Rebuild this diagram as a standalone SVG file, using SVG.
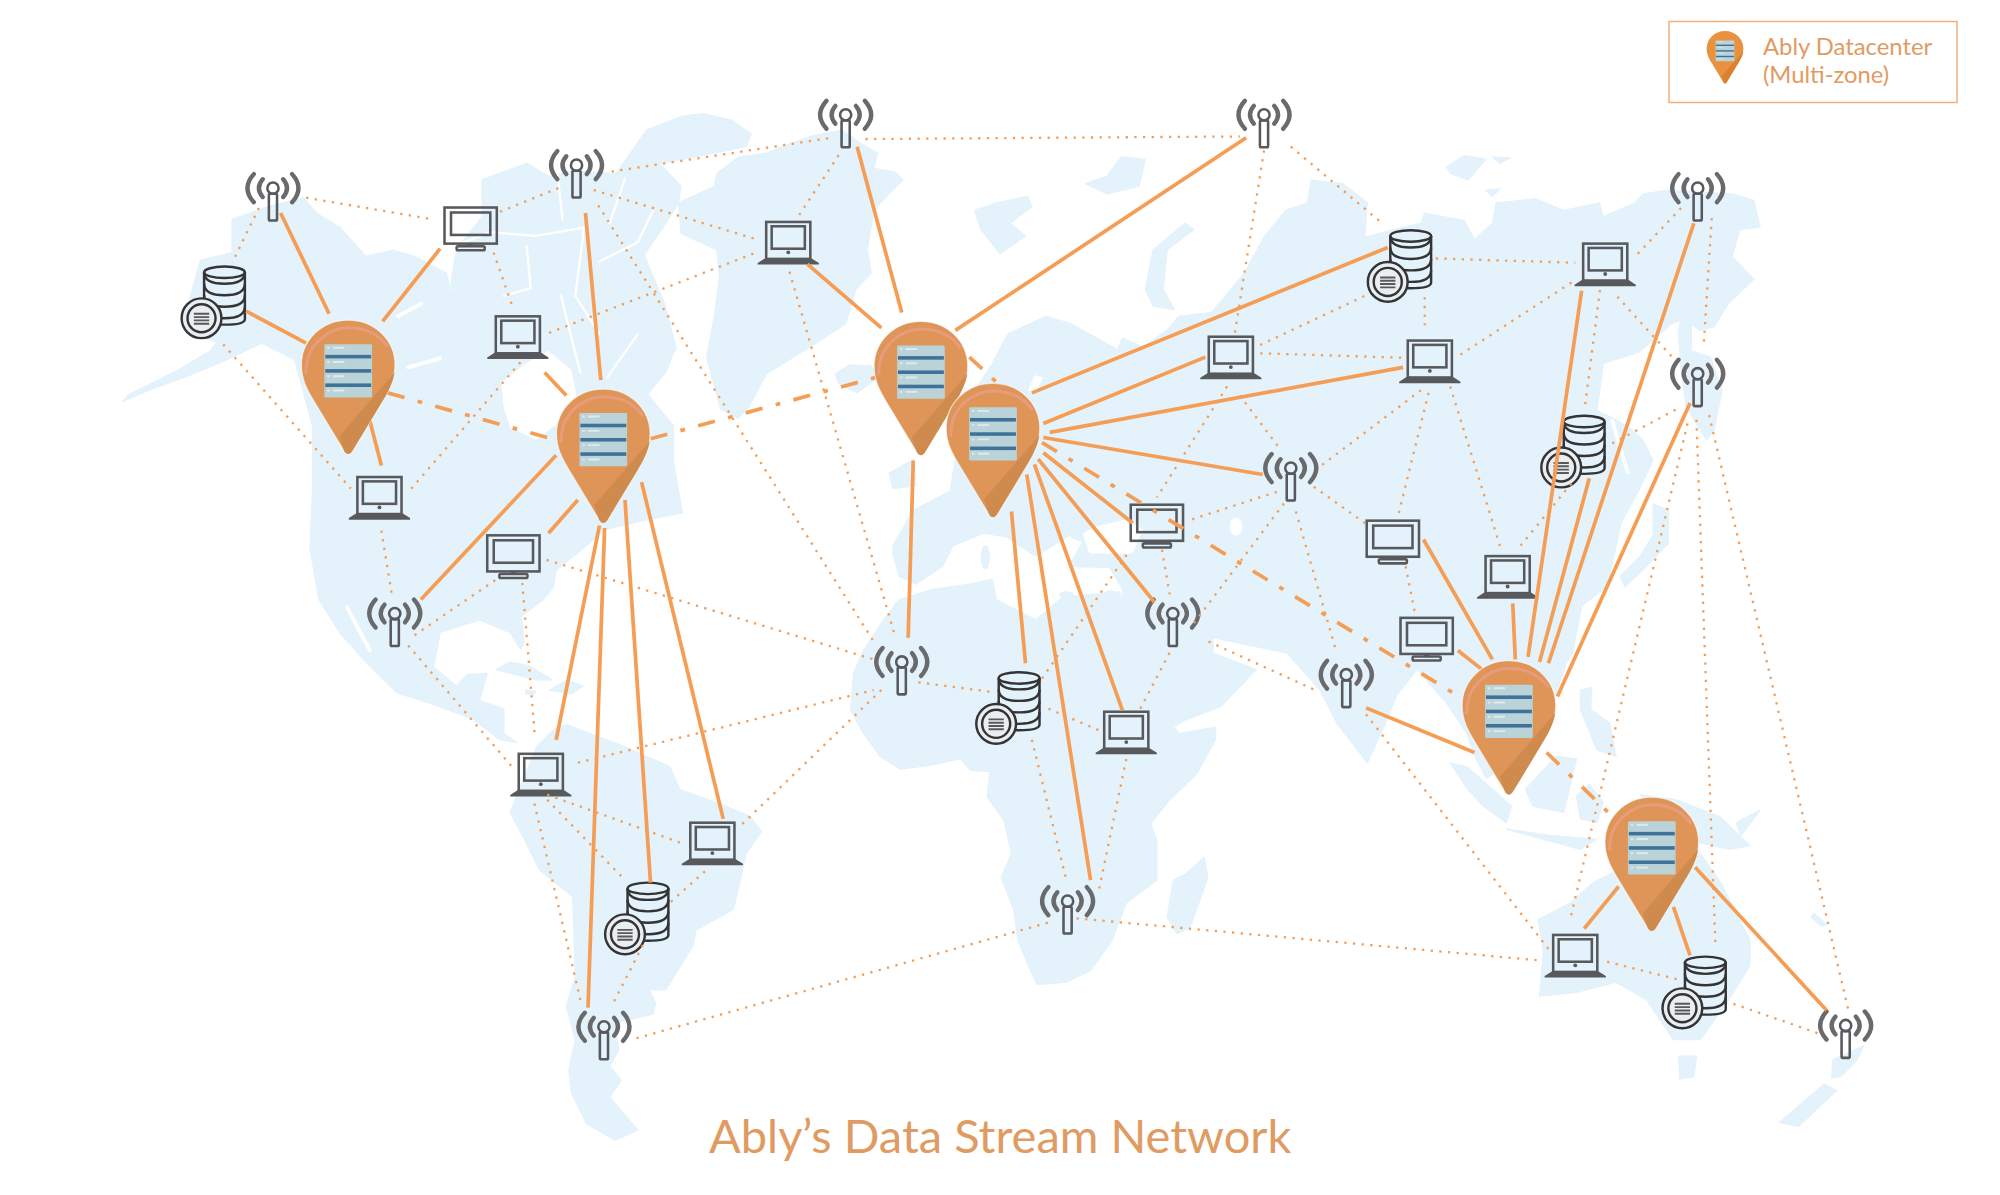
<svg xmlns="http://www.w3.org/2000/svg" width="2000" height="1195" viewBox="0 0 2000 1195">
<style>
.land{fill:#e3f2fb;stroke:#e3f2fb;stroke-width:1;stroke-linejoin:round}
.sea{fill:#fff;stroke:none}
.seal{fill:none;stroke:#fff;stroke-width:3;stroke-linecap:round;stroke-linejoin:round}
.seal2{fill:none;stroke:#fff;stroke-width:1.8;stroke-linecap:round;stroke-linejoin:round}
.solid{stroke:#f59d54;stroke-width:2.9;fill:none}
.dot{stroke:#f59d54;stroke-width:1.8;stroke-dasharray:1.8 5;fill:none}
.back{stroke:#f59d54;stroke-width:2.9;stroke-dasharray:13.6 10.7 3.7 10.7;fill:none}
.ic{fill:none;stroke:#58595d;stroke-width:2}
.ifill{fill:#58595d;stroke:none}
.arc{fill:none;stroke:#6a6a6c;stroke-width:3.4;stroke-linecap:round}
.db{fill:none;stroke:#343436;stroke-width:1.9}
.txt{font-family:"Lato","Open Sans","Liberation Sans",sans-serif;fill:#e09b63;font-weight:400}
</style>
<defs>
<g id="ant">
<path class="arc" d="M-15,-11Q-25,0-15,11M15,-11Q25,0 15,11"/>
<path class="arc" d="M-8,-7Q-14,0-8,7M8,-7Q14,0 8,7"/>
<rect class="ic" x="-3.2" y="4.4" width="6.4" height="21" rx="1"/>
<circle class="ic" cx="0" cy="0" r="4.4"/>
</g>
<g id="lap">
<rect class="ic" x="-17.3" y="-16" width="34.6" height="29"/>
<rect class="ic" x="-13" y="-12.6" width="26" height="17.6"/>
<circle class="ifill" cx="0" cy="7.8" r="1.5"/>
<path class="ifill" d="M-18,12.4H18L24,16.2V17.4H-24V16.2Z"/>
</g>
<g id="mon">
<rect class="ic" x="-20.5" y="-16.3" width="41" height="28.3"/>
<rect class="ic" x="-15.4" y="-12.4" width="30.8" height="17.6"/>
<rect class="ifill" x="-2" y="12" width="4" height="2.5"/>
<rect class="ic" x="-11" y="14" width="22" height="3.2" rx="1"/>
</g>
<g id="dbs">
<path class="db" d="M-16,4.5V41Q-16,45.5 0,45.5Q16,45.5 16,41V4.5"/>
<ellipse class="db" cx="0" cy="4.5" rx="16" ry="4.5"/>
<path class="db" d="M-16,4.5Q-16,13.5 0,13.5Q16,13.5 16,4.5M-16,13.5Q-16,22.5 0,22.5Q16,22.5 16,13.5M-16,22.5Q-16,31.5 0,31.5Q16,31.5 16,22.5M-16,31.5Q-16,40.5 0,40.5Q16,40.5 16,31.5"/>
<circle cx="-18" cy="40.5" r="15.6" fill="#e9eef1" stroke="#343436" stroke-width="1.9"/>
<circle class="db" cx="-18" cy="40.5" r="11"/>
<path d="M-24,37H-12M-24,39.6H-12M-24,42.2H-12M-24,44.8H-12" stroke="#58595d" stroke-width="1.5" fill="none"/>
</g>
<path id="pinbody" d="M0,0C21,0 36.7,16 36.7,35C36.7,47 32,55 26,65L3,103Q0,107-3,103L-26,65C-32,55-36.7,47-36.7,35C-36.7,16-21,0 0,0Z"/>
<g id="srv">
<rect x="-18.7" y="18.8" width="37.4" height="41.8" rx="1" fill="#b9d3d8"/>
<rect x="-18" y="27.2" width="36" height="2.8" fill="#3e7299"/>
<rect x="-18" y="38.4" width="36" height="2.8" fill="#3e7299"/>
<rect x="-18" y="49.6" width="36" height="2.8" fill="#3e7299"/>
<path d="M-12,21.6H-3M-12,32.8H-3M-12,44H-3M-12,55.2H-3" stroke="#dfeaec" stroke-width="1.5" fill="none"/>
<path d="M-16.5,21.6H-14.5M-16.5,32.8H-14.5M-16.5,44H-14.5M-16.5,55.2H-14.5" stroke="#dfeaec" stroke-width="1.5" fill="none"/>
</g>
<g id="pin">
<use href="#pinbody" fill="#de9557" stroke="#fff" stroke-opacity=".6" stroke-width="1"/>
<path d="M-7,91L36.4,41C35,49 31,57 26,65L3,103Q0,107-3,103Z" fill="#cf8a4e"/>
<path d="M-33,42C-34,18-14,6 0,6C13,6 24,11 31,21" fill="none" stroke="#e89c7b" stroke-width="2.4"/>
<use href="#srv"/>
</g>
</defs>
<g transform="scale(1.2755)">
<g id="world-map">
<polygon class="land" points="182,172 210,162 238,155 248,167 266,178 287,201 308,196 325,201 350,214 353,227 371,240 395,230 409,245 416,280 455,298 507,308 528,334 528,362 535,402 505,408 475,415 462,426 436,447 434,460 426,470 409,483 411,504 408,509 400,496 376,486 345,496 340,523 358,538 366,529 382,528 376,549 395,556 395,575 405,582 392,580 371,564 342,553 311,543 285,517 267,497 250,470 243,430 245,386 245,334 238,308 231,282 205,269 178,282 147,295 119,305 96,315 100,310 140,290 165,275 170,268 150,262 143,256 157,204 182,198"/>
<polygon class="land" points="353,225 358,195 378,170 378,141 413,128 430,138 448,134 483,136 507,102 535,91 551,89 573,94 589,105 585,115 545,123 517,128 534,146 532,159 520,178 505,200 521,238 530,272 522,292 507,310 455,300 416,282 409,245 395,230 371,240"/>
<polygon class="sea" points="393,300 412,285 430,275 448,290 452,310 440,330 420,345 400,335 395,320"/>
<path class="seal" d="M272,476L290,510M312,248L330,238M320,288L345,281"/>
<path class="seal2" d="M358,192L385,182L420,185L460,178M436,126L441,172M458,178L451,232L470,262M413,193L416,226L395,232M470,205L500,190L512,165M490,140L478,175M440,232L448,265L455,292M476,296L500,262"/>
<polygon class="land" points="517,259 530,274 517,287"/>
<polygon class="land" points="610,116 635,107 660,102 674,112 688,120 685,132 702,135 708,141 697,152 685,165 680,196 683,214 671,227 663,254 635,272 601,293 587,319 579,328 565,321 554,280 560,248 564,217 562,196 534,183 532,159 560,146 562,136 579,123 601,120"/>
<polygon class="land" points="655,293 666,286 683,287 690,295 672,308 657,300"/>
<polygon class="land" points="764,165 781,159 806,154 809,162 792,175 804,185 784,199 769,180"/>
<polygon class="land" points="851,144 868,138 879,123 898,125 893,146 868,152"/>
<polygon class="land" points="929,175 936,180 915,196 912,227 921,243 904,240 898,227 904,196"/>
<polygon class="land" points="1134,131 1148,122 1165,125 1151,141 1137,136"/>
<polygon class="land" points="1170,123 1184,124 1176,128"/>
<polygon class="land" points="1165,149 1176,148 1170,154"/>
<polygon class="land" points="697,371 716,360 718,381 700,383"/>
<polygon class="land" points="700,428 716,400 745,385 755,320 778,285 790,262 820,248 840,254 876,274 880,265 896,272 915,259 924,248 950,245 975,215 991,186 1008,165 1025,159 1028,141 1053,144 1072,159 1070,186 1092,180 1114,175 1117,167 1148,173 1156,188 1170,175 1173,159 1204,156 1226,165 1254,159 1257,170 1282,159 1288,152 1308,149 1358,152 1375,157 1380,178 1364,180 1358,201 1375,219 1355,238 1344,256 1333,259 1320,250 1310,254 1296,267 1285,276 1257,285 1252,322 1263,327 1277,335 1288,345 1296,361 1285,384 1271,410 1260,460 1240,475 1233,512 1228,520 1218,548 1200,570 1185,600 1165,610 1155,590 1150,575 1134,551 1111,525 1095,545 1085,570 1072,598 1062,585 1048,567 1035,541 1009,512 975,505 951,500 951,512 985,525 957,554 928,565 920,570 900,540 878,502 880,462 870,445 838,444 849,425 838,420 812,436 789,421 771,418 747,428 739,444 718,458 705,452 700,434"/>
<polygon class="land" points="1320,238 1326,240 1326,275 1341,280 1350,306 1344,337 1338,345 1322,319 1318,290 1316,260"/>
<polygon class="land" points="1296,395 1308,400 1308,426 1288,447 1274,460 1270,452 1286,436 1296,420"/>
<polygon class="sea" points="849,418 859,413 883,407 896,415 888,434 854,434"/>
<ellipse class="sea" cx="969" cy="413" rx="5" ry="7"/>
<polygon class="sea" points="811,294 818,296 812,308 806,306"/>
<path class="seal" d="M1264,330L1276,370"/>
<polygon class="land" points="669,528 677,510 690,490 705,470 731,462 760,458 778,454 781,470 812,486 833,468 878,464 880,502 896,533 915,559 920,570 925,575 953,570 953,580 938,607 917,627 902,646 907,659 907,690 883,708 872,737 855,761 836,770 813,772 808,761 798,737 795,714 785,688 793,669 787,643 774,625 776,605 761,604 753,595 729,600 706,603 690,593 677,575 667,557"/>
<polygon class="land" points="944,672 947,688 933,727 923,732 915,719 920,690 930,685"/>
<polygon class="land" points="421,585 434,572 444,568 462,575 489,585 509,594 525,601 533,619 564,630 588,640 597,652 585,669 580,692 575,713 546,729 543,742 522,776 509,776 514,787 512,795 482,802 485,823 478,836 487,847 478,860 500,886 482,894 460,881 448,857 446,839 451,815 444,789 451,766 449,703 434,691 423,682 410,656 400,637 405,624"/>
<polygon class="land" points="389,525 400,519 415,522 433,533 420,533 400,528"/>
<polygon class="land" points="431,541 445,533 457,538 448,544"/>
<polygon class="land" points="412,541 420,542 418,545 412,544"/>
<polygon class="land" points="1137,598 1150,601 1176,624 1185,632 1181,645 1163,632 1150,618"/>
<polygon class="land" points="1196,619 1220,593 1236,595 1226,637 1202,632"/>
<polygon class="land" points="1181,650 1215,655 1252,658 1239,666 1202,656"/>
<polygon class="land" points="1236,624 1246,615 1257,629 1252,645 1239,642"/>
<polygon class="land" points="1239,541 1248,539 1247,556 1262,567 1267,593 1252,588 1239,556"/>
<polygon class="land" points="1286,623 1314,627 1348,640 1372,663 1356,666 1333,661 1300,650"/>
<polygon class="land" points="1361,645 1380,635 1365,655"/>
<polygon class="land" points="1422,716 1432,725 1428,726 1420,719"/>
<polygon class="land" points="1206,721 1231,708 1249,692 1265,684 1333,669 1349,692 1372,737 1372,757 1354,786 1333,815 1312,815 1301,799 1291,784 1267,770 1236,778 1207,781 1210,747"/>
<polygon class="land" points="1316,828 1330,828 1328,844 1317,846"/>
<polygon class="land" points="1437,831 1461,820 1456,831 1443,844 1436,845"/>
<polygon class="land" points="1395,880 1430,850 1440,855 1410,883"/>
<ellipse class="land" cx="772.5" cy="437" rx="3" ry="9"/>
<ellipse class="land" cx="836" cy="466" rx="5" ry="2"/>
<ellipse class="land" cx="871" cy="466" rx="5" ry="2.5"/>
</g>
<g id="node-antenna-1"><use href="#ant" x="214" y="147.5"/></g>
<g id="node-antenna-2"><use href="#ant" x="452" y="129.5"/></g>
<g id="node-antenna-3"><use href="#ant" x="663" y="90"/></g>
<g id="node-antenna-4"><use href="#ant" x="991" y="90"/></g>
<g id="node-antenna-5"><use href="#ant" x="1331" y="147.5"/></g>
<g id="node-antenna-6"><use href="#ant" x="1331" y="293"/></g>
<g id="node-antenna-7"><use href="#ant" x="1012" y="367"/></g>
<g id="node-antenna-8"><use href="#ant" x="919.5" y="481"/></g>
<g id="node-antenna-9"><use href="#ant" x="1055.5" y="529"/></g>
<g id="node-antenna-10"><use href="#ant" x="707" y="519"/></g>
<g id="node-antenna-11"><use href="#ant" x="309.5" y="481"/></g>
<g id="node-antenna-12"><use href="#ant" x="837" y="706.5"/></g>
<g id="node-antenna-13"><use href="#ant" x="473.5" y="805"/></g>
<g id="node-antenna-14"><use href="#ant" x="1447" y="804"/></g>
<g id="node-laptop-1"><use href="#lap" x="406" y="264"/></g>
<g id="node-laptop-2"><use href="#lap" x="618" y="190"/></g>
<g id="node-laptop-3"><use href="#lap" x="297.5" y="390"/></g>
<g id="node-laptop-4"><use href="#lap" x="424" y="607"/></g>
<g id="node-laptop-5"><use href="#lap" x="558.5" y="661"/></g>
<g id="node-laptop-6"><use href="#lap" x="883" y="574"/></g>
<g id="node-laptop-7"><use href="#lap" x="965" y="280"/></g>
<g id="node-laptop-8"><use href="#lap" x="1121" y="283"/></g>
<g id="node-laptop-9"><use href="#lap" x="1258.5" y="207"/></g>
<g id="node-laptop-10"><use href="#lap" x="1182" y="452"/></g>
<g id="node-laptop-11"><use href="#lap" x="1235" y="749"/></g>
<g id="node-monitor-1"><use href="#mon" x="369" y="179"/></g>
<g id="node-monitor-2"><use href="#mon" x="402.5" y="436"/></g>
<g id="node-monitor-3"><use href="#mon" x="907" y="412"/></g>
<g id="node-monitor-4"><use href="#mon" x="1092" y="424.5"/></g>
<g id="node-monitor-5"><use href="#mon" x="1118.5" y="500.7"/></g>
<g id="node-db-1"><use href="#dbs" x="176" y="209"/></g>
<g id="node-db-2"><use href="#dbs" x="1106" y="180.5"/></g>
<g id="node-db-3"><use href="#dbs" x="1242" y="326"/></g>
<g id="node-db-4"><use href="#dbs" x="799" y="527"/></g>
<g id="node-db-5"><use href="#dbs" x="508" y="692"/></g>
<g id="node-db-6"><use href="#dbs" x="1337" y="750"/></g>
<g id="connectors">
<g class="dot">
<line x1="240" y1="155" x2="339.5" y2="172"/>
<line x1="203" y1="163" x2="182" y2="206"/>
<line x1="175" y1="270" x2="275" y2="383"/>
<line x1="392" y1="166" x2="439" y2="147"/>
<line x1="387" y1="198" x2="402" y2="241"/>
<line x1="408" y1="284" x2="320" y2="386"/>
<line x1="479.5" y1="134.5" x2="652" y2="108"/>
<line x1="678.5" y1="109" x2="972" y2="107"/>
<line x1="465.5" y1="149" x2="591" y2="187"/>
<line x1="469" y1="161" x2="685" y2="503"/>
<line x1="430.5" y1="261" x2="591" y2="198.7"/>
<line x1="657.5" y1="121.6" x2="625" y2="171"/>
<line x1="619" y1="213" x2="702" y2="500"/>
<line x1="299" y1="416" x2="307" y2="465"/>
<line x1="325" y1="498" x2="391" y2="453"/>
<line x1="320" y1="506" x2="403" y2="603"/>
<line x1="428.5" y1="439" x2="685" y2="517"/>
<line x1="409.5" y1="457" x2="419.5" y2="579"/>
<line x1="453" y1="598" x2="685" y2="541"/>
<line x1="582" y1="646" x2="692" y2="540"/>
<line x1="429" y1="623" x2="537" y2="662"/>
<line x1="429" y1="627" x2="490" y2="690"/>
<line x1="419" y1="630" x2="455" y2="784"/>
<line x1="526" y1="707" x2="554" y2="682"/>
<line x1="504" y1="741" x2="481" y2="786"/>
<line x1="499" y1="814" x2="823" y2="723"/>
<line x1="844" y1="720" x2="1207" y2="753"/>
<line x1="720" y1="535" x2="778" y2="542.5"/>
<line x1="809" y1="580" x2="836.4" y2="691.5"/>
<line x1="883" y1="595" x2="861" y2="700.6"/>
<line x1="822" y1="555.6" x2="862.6" y2="573"/>
<line x1="817" y1="532" x2="886" y2="431"/>
<line x1="894" y1="555.6" x2="917.4" y2="511"/>
<line x1="947.5" y1="503" x2="1031" y2="541"/>
<line x1="1071" y1="560" x2="1214" y2="744"/>
<line x1="991" y1="118" x2="968" y2="262"/>
<line x1="1012" y1="115" x2="1083.6" y2="175"/>
<line x1="988" y1="270.5" x2="1072" y2="231"/>
<line x1="988" y1="277" x2="1102" y2="280.5"/>
<line x1="1117" y1="233" x2="1117" y2="255"/>
<line x1="1125.6" y1="202.6" x2="1235" y2="206"/>
<line x1="1145" y1="278" x2="1235" y2="219.6"/>
<line x1="1284" y1="199" x2="1319" y2="162"/>
<line x1="1254.4" y1="227.4" x2="1242.4" y2="320"/>
<line x1="1268" y1="232.6" x2="1312" y2="281"/>
<line x1="1342" y1="171" x2="1335.6" y2="272"/>
<line x1="1120" y1="308" x2="1096" y2="405"/>
<line x1="1114" y1="306" x2="1034.6" y2="366"/>
<line x1="1137" y1="303" x2="1177.4" y2="432.6"/>
<line x1="1030" y1="381.6" x2="1072.4" y2="411.7"/>
<line x1="1016" y1="401" x2="1048" y2="512"/>
<line x1="1006.6" y1="394.7" x2="935" y2="490"/>
<line x1="1001" y1="385.6" x2="932" y2="408"/>
<line x1="972" y1="310" x2="1002" y2="350"/>
<line x1="962" y1="303" x2="907" y2="390"/>
<line x1="911" y1="431" x2="917" y2="466"/>
<line x1="1102" y1="444" x2="1109" y2="479"/>
<line x1="1232" y1="379" x2="1191.4" y2="428.7"/>
<line x1="1264" y1="347.6" x2="1316" y2="320"/>
<line x1="1323" y1="332" x2="1231" y2="721"/>
<line x1="1330" y1="329" x2="1345" y2="743"/>
<line x1="1340" y1="325.4" x2="1449" y2="791.5"/>
<line x1="1260" y1="754" x2="1316" y2="768"/>
<line x1="1359" y1="787" x2="1428" y2="811"/>
</g>
<g class="back">
<line x1="304" y1="308" x2="436" y2="345"/>
<line x1="510" y1="344" x2="690" y2="295"/>
<line x1="760" y1="280" x2="785" y2="303"/>
<line x1="817" y1="347" x2="1152" y2="551"/>
<line x1="1212.6" y1="590" x2="1262" y2="638"/>
</g>
<g class="solid">
<line x1="220" y1="167" x2="258" y2="246"/>
<line x1="345" y1="195" x2="300" y2="252"/>
<line x1="193" y1="244" x2="240" y2="269"/>
<line x1="290" y1="330" x2="299" y2="365"/>
<line x1="459" y1="167" x2="471" y2="298"/>
<line x1="427" y1="292" x2="444" y2="310"/>
<line x1="436" y1="357" x2="330" y2="470"/>
<line x1="453" y1="392" x2="430" y2="418"/>
<line x1="470" y1="412" x2="436" y2="580"/>
<line x1="474" y1="414" x2="461" y2="790"/>
<line x1="490" y1="392" x2="510" y2="692"/>
<line x1="503" y1="378" x2="567" y2="642"/>
<line x1="672" y1="115" x2="707" y2="245"/>
<line x1="633" y1="207" x2="691" y2="257"/>
<line x1="977" y1="108" x2="749" y2="259"/>
<line x1="716" y1="361" x2="712" y2="500"/>
<line x1="809" y1="308" x2="1088" y2="194"/>
<line x1="818" y1="332" x2="945" y2="280"/>
<line x1="823" y1="339" x2="1100" y2="288"/>
<line x1="818" y1="343" x2="990" y2="372"/>
<line x1="818" y1="355" x2="888" y2="410"/>
<line x1="814" y1="360" x2="905" y2="472"/>
<line x1="811" y1="364" x2="880" y2="557"/>
<line x1="805" y1="372" x2="855" y2="690"/>
<line x1="793" y1="401" x2="804" y2="520"/>
<line x1="1116" y1="423" x2="1170" y2="517"/>
<line x1="1186" y1="473" x2="1188" y2="517"/>
<line x1="1240" y1="228" x2="1198" y2="515"/>
<line x1="1246" y1="375" x2="1207" y2="519"/>
<line x1="1328" y1="175" x2="1214" y2="520"/>
<line x1="1325" y1="316" x2="1221" y2="546"/>
<line x1="1143" y1="510" x2="1162" y2="525"/>
<line x1="1071" y1="555" x2="1156" y2="590"/>
<line x1="1269" y1="695" x2="1242" y2="728"/>
<line x1="1312" y1="711" x2="1325" y2="749"/>
<line x1="1329" y1="680" x2="1432" y2="792"/>
</g>
</g>
<g id="node-datacenter-1"><use href="#pin" x="273" y="251"/></g>
<g id="node-datacenter-2"><use href="#pin" x="473" y="305"/></g>
<g id="node-datacenter-3"><use href="#pin" x="722" y="252"/></g>
<g id="node-datacenter-4"><use href="#pin" x="778.5" y="300.5"/></g>
<g id="node-datacenter-5"><use href="#pin" x="1183" y="518"/></g>
<g id="node-datacenter-6"><use href="#pin" x="1295" y="625"/></g>
</g>
<g id="legend">
<rect x="1669" y="21.5" width="288" height="81" fill="#fff" stroke="#f2b07c" stroke-width="1.5"/>
<g transform="translate(1725,31) scale(.5)">
<use href="#pinbody" fill="#e8923f"/>
<path d="M-7,91L36.4,41C35,49 31,57 26,65L3,103Q0,107-3,103Z" fill="#d9812f"/>
<use href="#srv"/>
</g>
<text class="txt" x="1763" y="55" font-size="23.8">Ably Datacenter</text>
<text class="txt" x="1763" y="83" font-size="23.8">(Multi-zone)</text>
</g>
<text id="title" class="txt" x="709" y="1153" font-size="47">Ably’s Data Stream Network</text>
</svg>
